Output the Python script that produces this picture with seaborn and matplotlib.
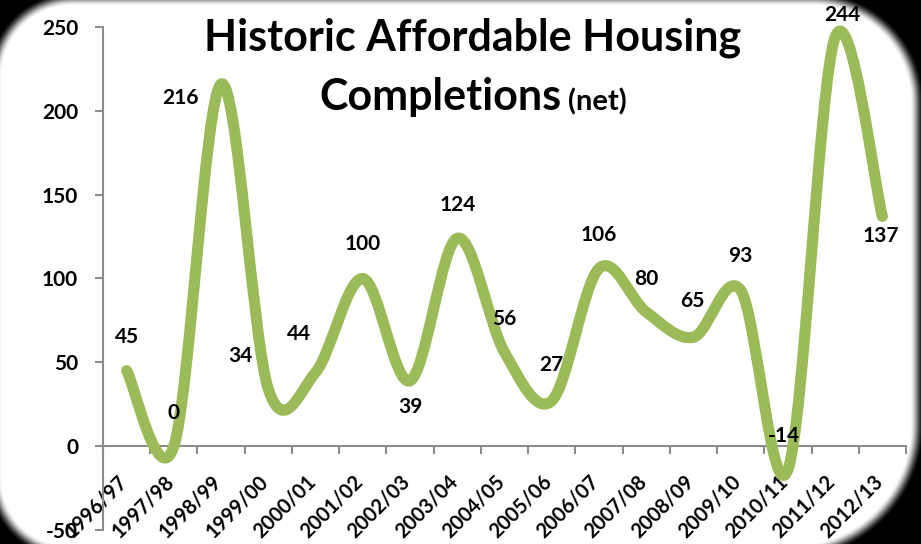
import numpy as np
import matplotlib
matplotlib.use("Agg")
import matplotlib.pyplot as plt
import matplotlib.transforms as mtransforms
from matplotlib.path import Path
from matplotlib.patches import PathPatch
import seaborn as sns

### data ###
years = ['1996/97', '1997/98', '1998/99', '1999/00', '2000/01', '2001/02',
         '2002/03', '2003/04', '2004/05', '2005/06', '2006/07', '2007/08',
         '2008/09', '2009/10', '2010/11', '2011/12', '2012/13']
completions = [45, 0, 216, 34, 44, 100, 39, 124, 56, 27, 106, 80, 65, 93, -14, 244, 137]
y_ticks = [-50, 0, 50, 100, 150, 200, 250]

# where each data label sits relative to its point (points)
label_offsets = [(0, 24), (0, 24), (-29, -10), (-20, 24), (-12, 28), (0, 25), (0, -19),
                 (0, 24), (0, 24), (0, 26), (0, 24), (0, 24), (-1, 26), (0, 25),
                 (-3, 24), (5, 16), (-1, -14)]

sns.set_theme(style="white")
plt.rcParams['font.family'] = ['Lato', 'DejaVu Sans']
plt.rcParams['font.weight'] = 'bold'

fig = plt.figure(figsize=(9.21, 5.44), dpi=100)
W, H = 921, 544

### vignette frame (black rounded border, different radius per corner) ###
px, py = np.meshgrid(np.arange(W) + 0.5, np.arange(H) + 0.5)
left, right, top, bottom = -12, 924, -8, 560
cx, cy = (left + right) / 2, (top + bottom) / 2
hx, hy = (right - left) / 2, (bottom - top) / 2
rad = np.where(px < cx, np.where(py < cy, 85, 82), np.where(py < cy, 110, 135))
qx = np.abs(px - cx) - (hx - rad)
qy = np.abs(py - cy) - (hy - rad)
d = np.hypot(np.maximum(qx, 0), np.maximum(qy, 0)) + np.minimum(np.maximum(qx, qy), 0) - rad
v = np.clip(-d / 14.0, 0, 1)
v = v * v * (3 - 2 * v)
img = np.dstack([v, v, v, np.ones_like(v)])
fig.figimage(img, 0, 0, origin='upper', zorder=0)

ax = fig.add_axes([103 / W, 14 / H, 803 / W, 503 / H])
ax.set_facecolor('none')
ax.set_zorder(2)

x = np.arange(len(completions))
yv = np.array(completions, dtype=float)

# Excel-style smoothed line (Catmull-Rom as cubic Bezier)
verts = [(x[0], yv[0])]
codes = [Path.MOVETO]
n = len(x)
for i in range(n - 1):
    i0 = max(i - 1, 0)
    i3 = min(i + 2, n - 1)
    c1 = (x[i] + (x[i + 1] - x[i0]) / 6, yv[i] + (yv[i + 1] - yv[i0]) / 6)
    c2 = (x[i + 1] - (x[i3] - x[i]) / 6, yv[i + 1] - (yv[i3] - yv[i]) / 6)
    verts += [c1, c2, (x[i + 1], yv[i + 1])]
    codes += [Path.CURVE4] * 3
curve = PathPatch(Path(verts, codes), facecolor='none', edgecolor='#9BBB59', lw=8,
                  capstyle='round', joinstyle='round', zorder=3, clip_on=False)
ax.add_patch(curve)

for xi, val, off in zip(x, completions, label_offsets):
    ax.annotate(str(val), (xi, val), xytext=off, textcoords='offset points',
                ha='center', va='center', fontsize=15, fontweight='bold', color='black', zorder=5)

sns.despine(ax=ax, top=True, right=True)
ax.spines['bottom'].set_position(('data', 0))
for s in ['left', 'bottom']:
    ax.spines[s].set_color('#8c8c8c')
    ax.spines[s].set_linewidth(1.5)
ax.grid(False)

ax.set_xlim(-0.5, len(years) - 0.5)
ax.set_ylim(-50, 250)
ax.tick_params(axis='y', which='major', direction='out', length=6, width=1.5, color='#8c8c8c',
               pad=12, labelcolor='black', labelsize=15, left=True)
ax.tick_params(axis='x', which='major', length=0, pad=18, labelcolor='black', labelsize=14.5)
ax.tick_params(axis='x', which='minor', direction='out', length=6, width=1.5, color='#8c8c8c', bottom=True)

ax.set_yticks(y_ticks)
ax.set_yticklabels([str(t) for t in y_ticks], fontsize=15, fontweight='bold')
ax.set_xticks(x)
ax.set_xticklabels(years, rotation=45, ha='right', rotation_mode='default', fontsize=14.5, fontweight='bold')
ax.set_xticks(np.arange(-0.5, len(years), 1), minor=True)

# nudge category labels a little right, like the original
shift = mtransforms.ScaledTranslation(4 / 100, 0, fig.dpi_scale_trans)
for lab in ax.get_xticklabels():
    lab.set_transform(lab.get_transform() + shift)

### title ###
fig.text(473 / W, 1 - 50 / H, 'Historic Affordable Housing', ha='center', va='baseline',
         fontsize=31, fontweight='bold', color='black', zorder=4)
fig.text(561 / W, 1 - 110 / H, 'Completions', ha='right', va='baseline',
         fontsize=31, fontweight='bold', color='black', zorder=4)
fig.text(568 / W, 1 - 110 / H, '(net)', ha='left', va='baseline',
         fontsize=21, fontweight='bold', color='black', zorder=4)

fig.savefig('out.png', dpi=100, facecolor='white')
